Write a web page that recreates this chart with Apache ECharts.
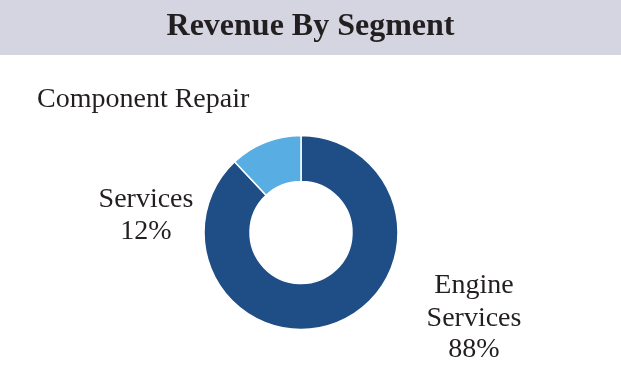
<!DOCTYPE html>
<html>
<head>
<meta charset="utf-8">
<script src="https://cdn.jsdelivr.net/npm/echarts@6/dist/echarts.min.js"></script>
<style>
html,body{margin:0;padding:0;background:#fff;}
#chart{width:621px;height:366px;}
</style>
</head>
<body>
<div id="chart"></div>
<script>
const titleText = 'Revenue By Segment';
const categories = ['Engine Services', 'Component Repair Services'];
const values = [88, 12];
const colors = ['#1f4e86', '#58aee2'];
// label lines (category name split + percentage)
const engineLabelLines = ['Engine', 'Services'];
const componentLabelLines = ['Component Repair', 'Services'];

const FONT = '"Liberation Serif", "Times New Roman", serif';
const total = values.reduce((a, b) => a + b, 0);
const pct = values.map(v => Math.round(v / total * 100) + '%');

const chart = echarts.init(document.getElementById('chart'), null, {renderer: 'canvas'});

const labelStyle = {fontFamily: FONT, fontSize: 28, fill: '#231f20'};

function textEl(text, x, y, align) {
  return {
    type: 'text', x: x, y: y,
    style: Object.assign({text: text, textAlign: align, textVerticalAlign: 'middle'}, labelStyle)
  };
}

const graphics = [
  {type: 'rect', shape: {x: 0, y: 0, width: 621, height: 55}, style: {fill: '#d4d5e0'}, z: -1},
  {type: 'text', x: 310.5, y: 27,
   style: {text: titleText, textAlign: 'center', textVerticalAlign: 'middle', fontFamily: FONT, fontSize: 32, fontWeight: 'bold', fill: '#231f20'}},
  textEl(componentLabelLines[0], 37, 100, 'left'),
  textEl(componentLabelLines[1], 146, 200, 'center'),
  textEl(pct[1], 146, 232, 'center'),
  textEl(engineLabelLines[0], 474, 286, 'center'),
  textEl(engineLabelLines[1], 474, 319, 'center'),
  textEl(pct[0], 474, 350, 'center')
];

chart.setOption({
  animation: false,
  backgroundColor: '#ffffff',
  graphic: graphics,
  series: [{
    type: 'pie',
    center: [301, 232.5],
    radius: [51, 97],
    startAngle: 90,
    clockwise: true,
    label: {show: false},
    labelLine: {show: false},
    emphasis: {disabled: true},
    itemStyle: {borderColor: '#ffffff', borderWidth: 1.5},
    data: categories.map((c, i) => ({name: c, value: values[i], itemStyle: {color: colors[i]}}))
  }]
});
</script>
</body>
</html>
